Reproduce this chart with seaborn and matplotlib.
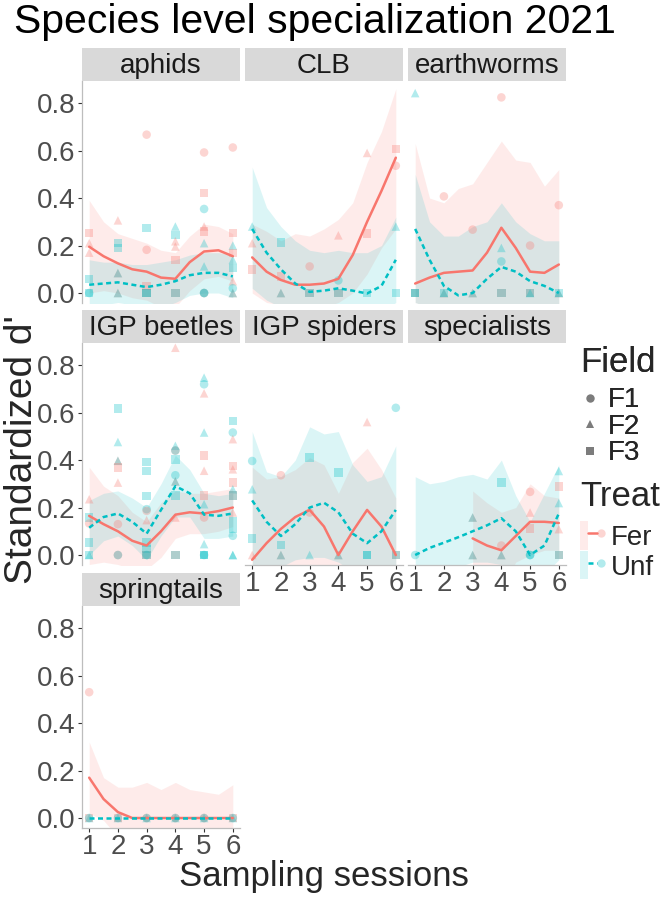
import numpy as np
import pandas as pd
import matplotlib
matplotlib.use('Agg')
import matplotlib.pyplot as plt
import seaborn as sns
from matplotlib.lines import Line2D
from matplotlib.patches import Patch, Rectangle
from matplotlib.legend_handler import HandlerTuple

# ---------------- data ----------------
groups = ['aphids', 'CLB', 'earthworms', 'IGP beetles', 'IGP spiders', 'specialists', 'springtails']
treats = ['Fer', 'Unf']
fields = ['F1', 'F2', 'F3']

# (session, standardized d', field, treat)
aphids_pts = [
    (1, .253, 'F3', 'Fer'), (1, .21, 'F2', 'Fer'), (1, .17, 'F2', 'Fer'), (1, .06, 'F3', 'Unf'), (1, 0, 'F1', 'Unf'), (1, 0, 'F3', 'Unf'),
    (2, .306, 'F2', 'Fer'), (2, .21, 'F3', 'Unf'), (2, .19, 'F3', 'Unf'), (2, .084, 'F2', 'Fer'), (2, .084, 'F2', 'Unf'), (2, 0, 'F2', 'Fer'), (2, 0, 'F2', 'Unf'),
    (3, .667, 'F1', 'Fer'), (3, .274, 'F3', 'Unf'), (3, .182, 'F1', 'Fer'), (3, .03, 'F3', 'Fer'), (3, 0, 'F3', 'Fer'), (3, 0, 'F3', 'Unf'), (3, 0, 'F3', 'Unf'),
    (4, .28, 'F2', 'Unf'), (4, .245, 'F3', 'Unf'), (4, .218, 'F2', 'Fer'), (4, .196, 'F2', 'Fer'), (4, .14, 'F3', 'Fer'), (4, 0, 'F3', 'Fer'), (4, 0, 'F3', 'Unf'),
    (5, .592, 'F1', 'Fer'), (5, .421, 'F3', 'Fer'), (5, .354, 'F1', 'Unf'), (5, .28, 'F2', 'Fer'), (5, .26, 'F3', 'Fer'), (5, .21, 'F2', 'Unf'), (5, .112, 'F2', 'Unf'),
    (5, 0, 'F1', 'Fer'), (5, 0, 'F1', 'Unf'), (5, 0, 'F1', 'Unf'),
    (6, .613, 'F1', 'Fer'), (6, .253, 'F3', 'Fer'), (6, .2, 'F2', 'Unf'), (6, .168, 'F3', 'Fer'), (6, .14, 'F2', 'Unf'), (6, .105, 'F3', 'Unf'), (6, .05, 'F2', 'Fer'),
    (6, .02, 'F1', 'Unf'), (6, 0, 'F2', 'Fer'), (6, 0, 'F2', 'Unf'),
]
clb_pts = [
    (1, .28, 'F2', 'Unf'), (1, .21, 'F2', 'Fer'), (1, .10, 'F3', 'Fer'),
    (2, .213, 'F3', 'Unf'), (2, .07, 'F3', 'Fer'), (2, 0, 'F2', 'Fer'), (2, 0, 'F2', 'Unf'),
    (3, .112, 'F1', 'Fer'), (3, 0, 'F3', 'Fer'), (3, 0, 'F3', 'Unf'),
    (4, .243, 'F2', 'Fer'), (4, .053, 'F1', 'Unf'), (4, 0, 'F3', 'Fer'), (4, 0, 'F3', 'Unf'),
    (5, .59, 'F2', 'Fer'), (5, .25, 'F3', 'Fer'), (5, 0, 'F3', 'Unf'),
    (6, .606, 'F3', 'Fer'), (6, .536, 'F1', 'Fer'), (6, .28, 'F2', 'Unf'), (6, 0, 'F3', 'Unf'),
]
earthworms_pts = [
    (1, .842, 'F2', 'Unf'), (1, 0, 'F3', 'Fer'), (1, 0, 'F3', 'Unf'), (1, 0, 'F3', 'Unf'),
    (2, .407, 'F1', 'Fer'), (2, 0, 'F2', 'Fer'), (2, 0, 'F2', 'Unf'), (2, 0, 'F3', 'Unf'),
    (3, .267, 'F1', 'Fer'), (3, 0, 'F2', 'Fer'), (3, 0, 'F2', 'Unf'),
    (4, .824, 'F1', 'Fer'), (4, .19, 'F2', 'Unf'), (4, .133, 'F1', 'Unf'), (4, 0, 'F3', 'Fer'), (4, 0, 'F3', 'Unf'),
    (5, .2, 'F1', 'Fer'), (5, 0, 'F3', 'Fer'), (5, 0, 'F3', 'Unf'), (5, 0, 'F2', 'Unf'),
    (6, .37, 'F1', 'Fer'), (6, 0, 'F2', 'Fer'), (6, 0, 'F2', 'Unf'), (6, 0, 'F3', 'Unf'),
]
beetles_pts = [
    (1, .235, 'F2', 'Fer'), (1, .158, 'F3', 'Unf'), (1, .133, 'F1', 'Fer'), (1, .053, 'F3', 'Unf'), (1, 0, 'F3', 'Unf'), (1, 0, 'F2', 'Unf'),
    (2, .617, 'F3', 'Unf'), (2, .476, 'F2', 'Unf'), (2, .397, 'F2', 'Fer'), (2, .397, 'F2', 'Unf'), (2, .368, 'F3', 'Fer'), (2, .305, 'F2', 'Fer'),
    (2, .13, 'F1', 'Fer'), (2, 0, 'F1', 'Fer'), (2, 0, 'F1', 'Unf'),
    (3, .392, 'F3', 'Unf'), (3, .354, 'F3', 'Unf'), (3, .249, 'F3', 'Unf'), (3, .193, 'F1', 'Unf'), (3, .186, 'F1', 'Fer'), (3, .147, 'F2', 'Fer'),
    (3, .053, 'F3', 'Unf'), (3, .025, 'F3', 'Unf'), (3, 0, 'F3', 'Fer'), (3, 0, 'F3', 'Unf'), (3, 0, 'F1', 'Unf'),
    (4, .873, 'F2', 'Fer'), (4, .46, 'F2', 'Unf'), (4, .44, 'F1', 'Fer'), (4, .44, 'F1', 'Unf'), (4, .403, 'F3', 'Unf'), (4, .336, 'F1', 'Unf'),
    (4, .31, 'F2', 'Fer'), (4, .31, 'F2', 'Unf'), (4, .25, 'F3', 'Unf'), (4, .158, 'F2', 'Fer'), (4, 0, 'F3', 'Fer'), (4, 0, 'F3', 'Unf'),
    (5, .747, 'F2', 'Unf'), (5, .719, 'F1', 'Unf'), (5, .681, 'F2', 'Fer'), (5, .516, 'F2', 'Unf'), (5, .42, 'F3', 'Fer'), (5, .355, 'F2', 'Fer'),
    (5, .25, 'F3', 'Fer'), (5, .214, 'F2', 'Unf'), (5, .158, 'F1', 'Fer'), (5, .046, 'F2', 'Unf'), (5, 0, 'F3', 'Unf'), (5, 0, 'F3', 'Unf'), (5, 0, 'F1', 'Unf'),
    (6, .565, 'F3', 'Unf'), (6, .516, 'F1', 'Unf'), (6, .488, 'F2', 'Fer'), (6, .375, 'F3', 'Fer'), (6, .361, 'F2', 'Fer'), (6, .305, 'F3', 'Fer'),
    (6, .277, 'F2', 'Unf'), (6, .25, 'F3', 'Fer'), (6, .25, 'F3', 'Unf'), (6, .179, 'F2', 'Fer'), (6, .144, 'F3', 'Unf'), (6, .109, 'F3', 'Unf'),
    (6, .081, 'F1', 'Unf'), (6, 0, 'F2', 'Unf'), (6, 0, 'F2', 'Unf'),
]
spiders_pts = [
    (1, .396, 'F1', 'Unf'), (1, .277, 'F2', 'Unf'), (1, .07, 'F3', 'Unf'), (1, 0, 'F2', 'Fer'),
    (2, .336, 'F1', 'Fer'), (2, .042, 'F3', 'Unf'), (2, 0, 'F2', 'Fer'), (2, 0, 'F2', 'Unf'),
    (3, .41, 'F3', 'Unf'), (3, .179, 'F1', 'Fer'), (3, 0, 'F2', 'Unf'),
    (4, .347, 'F3', 'Unf'), (4, 0, 'F2', 'Fer'), (4, 0, 'F2', 'Unf'),
    (5, .56, 'F2', 'Fer'), (5, 0, 'F3', 'Unf'), (5, 0, 'F3', 'Unf'),
    (6, .62, 'F1', 'Unf'), (6, 0, 'F3', 'Fer'), (6, 0, 'F3', 'Unf'),
]
specialists_pts = [
    (1, 0, 'F1', 'Unf'),
    (3, .158, 'F2', 'Fer'), (3, .158, 'F2', 'Unf'), (3, 0, 'F2', 'Fer'), (3, 0, 'F2', 'Unf'),
    (4, .305, 'F3', 'Unf'), (4, .04, 'F1', 'Fer'), (4, 0, 'F2', 'Fer'), (4, 0, 'F2', 'Unf'),
    (5, .266, 'F1', 'Fer'), (5, .179, 'F2', 'Fer'), (5, .112, 'F3', 'Fer'), (5, 0, 'F1', 'Unf'), (5, 0, 'F1', 'Unf'),
    (6, .354, 'F2', 'Unf'), (6, .289, 'F3', 'Fer'), (6, .219, 'F2', 'Unf'), (6, .109, 'F2', 'Fer'), (6, 0, 'F3', 'Fer'), (6, 0, 'F3', 'Unf'),
]
springtails_pts = [
    (1, .53, 'F1', 'Fer'), (1, 0, 'F2', 'Unf'), (1, 0, 'F3', 'Fer'), (1, 0, 'F1', 'Unf'),
    (2, 0, 'F2', 'Unf'), (2, 0, 'F3', 'Fer'), (2, 0, 'F1', 'Unf'),
    (3, 0, 'F2', 'Unf'), (3, 0, 'F1', 'Fer'), (3, 0, 'F1', 'Unf'),
    (4, 0, 'F2', 'Unf'), (4, 0, 'F1', 'Fer'), (4, 0, 'F1', 'Unf'),
    (5, 0, 'F2', 'Unf'), (5, 0, 'F1', 'Fer'), (5, 0, 'F1', 'Unf'),
    (6, 0, 'F2', 'Unf'), (6, 0, 'F3', 'Fer'), (6, 0, 'F1', 'Unf'),
]

# smoothed fits (loess) read at half-session steps: fit, lower, upper
smooth_x = [1, 1.5, 2, 2.5, 3, 3.5, 4, 4.5, 5, 5.5, 6]
aphids_fer = dict(fit=[.195, .155, .125, .10, .09, .065, .06, .13, .175, .18, .155],
                  lo=[0, .01, 0, -.02, -.03, -.06, -.06, .01, .06, .07, .05],
                  hi=[.39, .30, .25, .23, .21, .18, .17, .24, .29, .28, .25])
aphids_unf = dict(fit=[.035, .04, .045, .035, .025, .035, .05, .075, .085, .085, .07],
                  lo=[-.07, -.05, -.04, -.05, -.07, -.06, -.04, -.01, 0, 0, -.02],
                  hi=[.14, .13, .13, .12, .12, .13, .14, .16, .17, .17, .16])
clb_fer = dict(fit=[.15, .09, .055, .035, .035, .04, .06, .16, .30, .43, .57],
               lo=[0, -.04, -.05, -.05, -.06, -.06, -.04, 0, .08, .19, .27],
               hi=[.29, .26, .22, .25, .24, .27, .31, .38, .55, .68, .86])
clb_unf = dict(fit=[.27, .17, .10, .04, .005, .01, .02, .01, -.002, .03, .14],
               lo=[.02, -.03, -.06, -.08, -.09, -.09, -.08, -.09, -.1, -.08, -.04],
               hi=[.53, .36, .28, .22, .18, .17, .18, .17, .17, .20, .32])
earthworms_fer = dict(fit=[.04, .065, .085, .09, .095, .17, .275, .19, .09, .085, .12],
                      lo=[-.04, -.06, -.08, -.09, -.1, -.1, -.09, -.1, -.1, -.1, -.1],
                      hi=[.63, .40, .38, .44, .46, .55, .64, .56, .55, .45, .52])
earthworms_unf = dict(fit=[.27, .14, .03, -.01, 0, .06, .11, .09, .05, .03, 0],
                      lo=[-.04, -.06, -.1, -.1, -.1, -.08, -.07, -.08, -.09, -.1, -.1],
                      hi=[.50, .30, .24, .24, .28, .30, .38, .30, .25, .22, .22])
beetles_fer = dict(fit=[.165, .13, .10, .06, .04, .10, .17, .18, .175, .185, .20],
                   lo=[-.04, -.03, -.04, -.06, -.06, -.01, .07, .09, .09, .10, .12],
                   hi=[.37, .29, .25, .18, .14, .22, .27, .26, .26, .27, .28])
beetles_unf = dict(fit=[.115, .16, .175, .14, .09, .19, .29, .26, .17, .165, .175],
                   lo=[0, .06, .08, .04, -.02, .08, .16, .16, .07, .07, .08],
                   hi=[.23, .26, .27, .24, .20, .30, .42, .36, .26, .25, .26])
spiders_fer = dict(fit=[-.02, .05, .11, .16, .19, .12, 0, .10, .19, .12, 0],
                   lo=[-.05, -.07, -.1, -.1, -.1, -.1, -.1, -.1, -.1, -.1, -.1],
                   hi=[.37, .32, .33, .36, .41, .38, .26, .39, .45, .36, .24])
spiders_unf = dict(fit=[.23, .14, .08, .13, .20, .22, .18, .09, .05, .10, .19],
                   lo=[-.04, -.04, -.05, -.02, -.01, -.01, -.03, -.07, -.1, -.08, -.06],
                   hi=[.52, .35, .33, .40, .54, .51, .52, .38, .31, .33, .46])
specialists_fer = dict(fit=[None, None, None, None, .07, .04, .02, .08, .14, .14, .135],
                       lo=[None, None, None, None, -.12, -.12, -.14, -.03, 0, .02, .02],
                       hi=[None, None, None, None, .27, .22, .18, .20, .30, .25, .24])
specialists_unf = dict(fit=[0, .03, .052, .075, .10, .125, .155, .10, 0, .04, .175],
                       lo=[-.1, -.1, -.08, -.05, -.03, -.03, -.04, -.06, -.1, -.08, -.02],
                       hi=[.33, .30, .31, .33, .34, .32, .40, .25, .14, .26, .38])
springtails_fer = dict(fit=[.17, .08, .025, 0, 0, 0, 0, 0, 0, 0, 0],
                       lo=[.02, -.01, -.08, -.1, -.1, -.1, -.1, -.1, -.1, -.1, -.1],
                       hi=[.32, .17, .13, .13, .15, .12, .15, .12, .11, .10, .14])
springtails_unf = dict(fit=[0, 0, 0, 0, 0, 0, 0, 0, 0, 0, 0],
                       lo=[0, 0, 0, 0, 0, 0, 0, 0, 0, 0, 0],
                       hi=[0, 0, 0, 0, 0, 0, 0, 0, 0, 0, 0])

points_by_group = dict(zip(groups, [aphids_pts, clb_pts, earthworms_pts, beetles_pts,
                                    spiders_pts, specialists_pts, springtails_pts]))
fits_by_group = dict(zip(groups, [(aphids_fer, aphids_unf), (clb_fer, clb_unf),
                                  (earthworms_fer, earthworms_unf), (beetles_fer, beetles_unf),
                                  (spiders_fer, spiders_unf), (specialists_fer, specialists_unf),
                                  (springtails_fer, springtails_unf)]))

# ---------------- tidy tables ----------------
rows = []
for g, pts in points_by_group.items():
    for s, v, f, t in pts:
        rows.append(dict(group=g, Session=s, d=v, Field=f, Treat=t))
points = pd.DataFrame(rows)

rows = []
for g, (fer, unf) in fits_by_group.items():
    for t, fit in zip(treats, (fer, unf)):
        for i, x in enumerate(smooth_x):
            rows.append(dict(group=g, Treat=t, Session=x, fit=fit['fit'][i], lo=fit['lo'][i], hi=fit['hi'][i]))
fits = pd.DataFrame(rows).astype({'fit': float, 'lo': float, 'hi': float})

# ---------------- style ----------------
sns.set_theme(style='white')
plt.rcParams['font.family'] = ['Liberation Sans', 'DejaVu Sans']

pal = {'Fer': '#F8766D', 'Unf': '#00BFC4'}
markers = {'F1': 'o', 'F2': '^', 'F3': 's'}
dashes = {'Fer': '', 'Unf': (2, 1.4)}
tick_col = '#4D4D4D'
rib_alpha = 0.14

W, H = 665, 897
fig = plt.figure(figsize=(W / 100, H / 100), dpi=100)

def box(x, y, w, h):
    return [x / W, 1 - (y + h) / H, w / W, h / H]

col_left = [82, 245, 408]
row_top = [81, 343, 606]
pw, ph, sh = 158, 222, 33

for i, g in enumerate(groups):
    r, c = divmod(i, 3)
    ax = fig.add_axes(box(col_left[c], row_top[r], pw, ph))
    sub_f = fits[fits.group == g]
    for t in treats:
        d = sub_f[sub_f.Treat == t].dropna()
        ax.fill_between(d.Session, d.lo, d.hi, color=pal[t], alpha=rib_alpha, lw=0, zorder=1)
    sns.scatterplot(data=points[points.group == g], x='Session', y='d', hue='Treat', style='Field',
                    palette=pal, markers=markers, hue_order=treats, style_order=fields,
                    s=38, alpha=0.3, edgecolor='none', legend=False, ax=ax, zorder=2)
    sns.lineplot(data=sub_f.dropna(), x='Session', y='fit', hue='Treat', style='Treat',
                 palette=pal, dashes=dashes, hue_order=treats, lw=1.8, legend=False,
                 ax=ax, zorder=3)
    ax.set_xlim(0.75, 6.25)
    ax.set_ylim(-0.042, 0.893)
    ax.set_xlabel('')
    ax.set_ylabel('')
    ax.set_xticks(range(1, 7))
    ax.set_yticks([0, .2, .4, .6, .8])
    for sp in ax.spines.values():
        sp.set_visible(False)
    bottom_panel = (r == 2) or (r == 1 and c > 0)
    left_panel = c == 0
    if left_panel:
        ax.spines['left'].set_visible(True)
        ax.spines['left'].set_color('#BDBDBD')
        ax.spines['left'].set_linewidth(0.9)
        ax.set_yticklabels(['0.0', '0.2', '0.4', '0.6', '0.8'])
    if bottom_panel:
        ax.spines['bottom'].set_visible(True)
        ax.spines['bottom'].set_color('#BDBDBD')
        ax.spines['bottom'].set_linewidth(0.9)
        ax.set_xticklabels([str(k) for k in range(1, 7)])
    ax.tick_params(axis='y', left=left_panel, labelleft=left_panel, length=3, width=0.8,
                   color='#333333', labelsize=20, labelcolor=tick_col, pad=2)
    ax.tick_params(axis='x', bottom=bottom_panel, labelbottom=bottom_panel, length=3, width=0.8,
                   color='#333333', labelsize=20, labelcolor=tick_col, pad=1)
    # strip
    sax = fig.add_axes(box(col_left[c], row_top[r] - sh, pw, sh))
    sax.set_axis_off()
    sax.add_patch(Rectangle((0, 0), 1, 1, transform=sax.transAxes, color='#D9D9D9', lw=0))
    sax.text(0.5, 0.45, g, ha='center', va='center', fontsize=20, color='#1A1A1A',
             transform=sax.transAxes)

fig.text(14 / W, 1 - 22 / H, 'Species level specialization 2021', fontsize=29.5,
         ha='left', va='center', color='black')
fig.text(324 / W, 1 - 876 / H, 'Sampling sessions', fontsize=25, ha='center', va='center')
fig.text(22 / W, 1 - 450 / H, "Standardized d'", fontsize=28, rotation=90,
         ha='center', va='center')

# legends
field_handles = [Line2D([], [], marker=markers[f], ls='', color='black', alpha=0.3,
                        markersize=6, markeredgewidth=0) for f in fields]
leg1 = fig.legend(field_handles, fields, title='Field', loc='upper left',
                  bbox_to_anchor=(580 / W, 1 - 346 / H), frameon=False, fontsize=20,
                  title_fontsize=25, alignment='left', handlelength=0.7,
                  handletextpad=0.3, labelspacing=0.02, borderpad=0, borderaxespad=0)
leg1._legend_box.sep = 6
fig.add_artist(leg1)

treat_handles = []
for t in treats:
    treat_handles.append((Patch(facecolor=pal[t], alpha=rib_alpha, lw=0),
                          Line2D([], [], color=pal[t], lw=1.8, dashes=(2, 1.4) if t == 'Unf' else (None, None)),
                          Line2D([], [], marker='o', ls='', color=pal[t], alpha=0.3,
                                 markersize=6, markeredgewidth=0)))
leg2 = fig.legend(treat_handles, treats, title='Treat', loc='upper left',
                  bbox_to_anchor=(580 / W, 1 - 480 / H), frameon=False, fontsize=20,
                  title_fontsize=25, alignment='left', handlelength=0.9, handleheight=1.2,
                  handletextpad=0.2, labelspacing=0, borderpad=0, borderaxespad=0,
                  handler_map={tuple: HandlerTuple(ndivide=None, pad=0)})
leg2._legend_box.sep = 6

fig.savefig('out.png', dpi=100)
